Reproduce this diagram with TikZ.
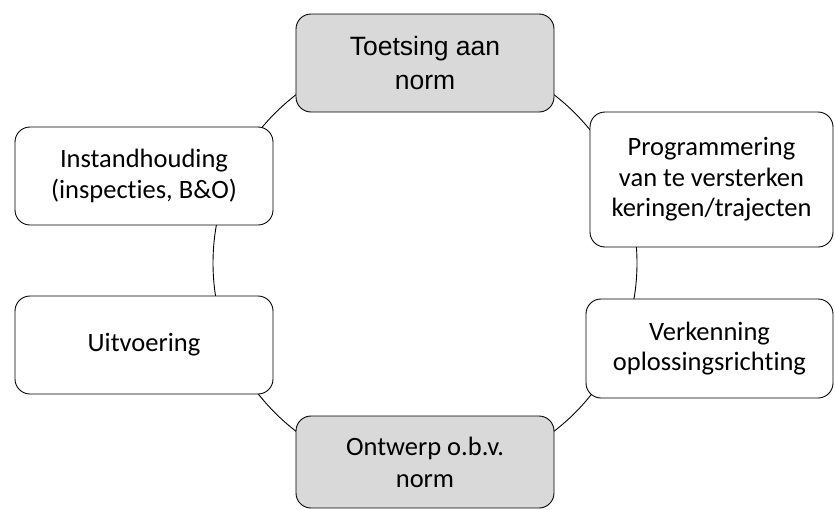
\documentclass[tikz,border=0pt]{standalone}
\usepackage{fontspec}
\setmainfont{Carlito}[Ligatures=NoCommon]
\newfontfamily\arialfont{Liberation Sans}
\definecolor{boxgray}{HTML}{D9D9D9}
\tikzset{
  stagebox/.style={draw=black, line width=0.9pt, rounded corners=15pt, fill=white,
    align=center, inner sep=2pt, font=\fontsize{26.5}{30.5}\selectfont},
  graybox/.style={stagebox, fill=boxgray},
  ringline/.style={draw=black, line width=0.9pt}
}
\begin{document}
\begin{tikzpicture}[x=1pt,y=-1pt]
\useasboundingbox (0,0) rectangle (835,509);
\node[circle, ringline, minimum size=424pt, inner sep=0pt] (ring) at (425,263) {};
\node[graybox, minimum width=258pt, minimum height=98pt, font=\arialfont\fontsize{26.5}{34}\selectfont] (toets) at (425,63) {Toetsing aan\\norm};
\node[stagebox, minimum width=243pt, minimum height=135pt] (prog) at (711.5,179.5) {Programmering\\van te versterken\\keringen/trajecten};
\node[stagebox, minimum width=247pt, minimum height=99pt] (verk) at (709.5,348.5) {Verkenning\\oplossingsrichting};
\node[graybox, minimum width=258pt, minimum height=92pt, font=\fontsize{26.5}{32}\selectfont] (ontw) at (425,462) {Ontwerp o.b.v.\\norm};
\node[stagebox, minimum width=258pt, minimum height=98pt] (uitv) at (144,345) {Uitvoering};
\node[stagebox, minimum width=258pt, minimum height=98pt] (inst) at (144,176) {Instandhouding\\(inspecties, B\&O)};
\end{tikzpicture}
\end{document}
